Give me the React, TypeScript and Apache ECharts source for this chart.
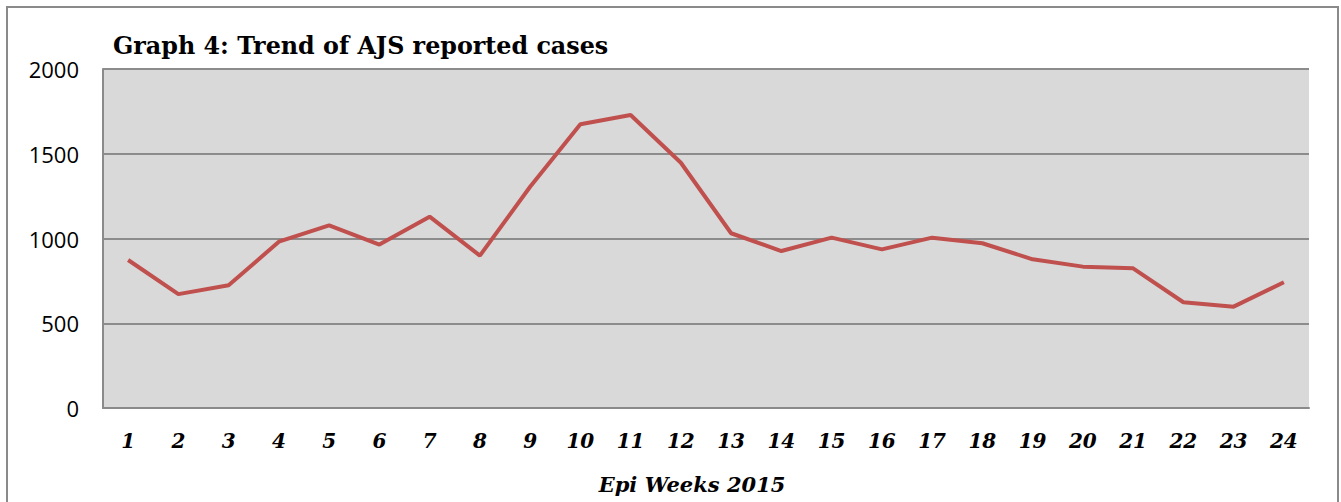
import React, { useEffect, useRef } from "react";
import * as echarts from "echarts";

const weeks = ["1","2","3","4","5","6","7","8","9","10","11","12","13","14","15","16","17","18","19","20","21","22","23","24"];
const cases = [873, 672, 724, 981, 1078, 964, 1129, 899, 1305, 1674, 1729, 1447, 1031, 926, 1005, 936, 1005, 972, 877, 834, 824, 624, 598, 742];
const yTicks = [0, 500, 1000, 1500, 2000];
const titleText = "Graph 4: Trend of AJS reported cases";
const xAxisName = "Epi Weeks 2015";

export default function App() {
  const ref = useRef<HTMLDivElement>(null);
  useEffect(() => {
    if (!ref.current) return;
    const chart = echarts.init(ref.current, null, { renderer: "svg" });
    chart.setOption({
      animation: false,
      backgroundColor: "#ffffff",
      title: {
        text: titleText,
        left: 108,
        top: 29,
        textStyle: { fontFamily: "DejaVu Serif", fontWeight: "bold", fontSize: 23.8, color: "#000000" },
      },
      graphic: [
        {
          type: "rect",
          shape: { x: 7, y: 7, width: 1331, height: 520 },
          style: { fill: "none", stroke: "#8a8a8a", lineWidth: 2 },
          silent: true,
        },
      ],
      grid: { left: 103, top: 69, width: 1206, height: 339, show: true, backgroundColor: "#d9d9d9", borderWidth: 0 },
      xAxis: {
        type: "category",
        data: weeks,
        boundaryGap: true,
        axisLine: { show: true, lineStyle: { color: "#8a8a8a", width: 2 } },
        axisTick: { show: false },
        axisLabel: {
          margin: 23,
          fontFamily: "DejaVu Serif",
          fontStyle: "italic",
          fontWeight: "bold",
          fontSize: 20,
          color: "#000000",
        },
        name: xAxisName,
        nameLocation: "middle",
        nameGap: 66,
        nameTextStyle: {
          fontFamily: "DejaVu Serif",
          fontStyle: "italic",
          fontWeight: "bold",
          fontSize: 21,
          color: "#000000",
          padding: [0, 28, 0, 0],
        },
      },
      yAxis: {
        type: "value",
        min: yTicks[0],
        max: yTicks[yTicks.length - 1],
        interval: 500,
        axisLine: { show: true, lineStyle: { color: "#8a8a8a", width: 2 } },
        axisTick: { show: false },
        axisLabel: {
          margin: 24,
          fontFamily: "Open Sans",
          fontSize: 22,
          color: "#000000",
          formatter: (v: number) => String(v),
        },
        splitLine: { show: true, lineStyle: { color: "#8c8c8c", width: 2 } },
      },
      series: [
        {
          type: "line",
          data: cases,
          symbol: "none",
          lineStyle: { color: "#c0504d", width: 4 },
          itemStyle: { color: "#c0504d" },
        },
      ],
    });
    return () => chart.dispose();
  }, []);
  return (
    <div
      ref={ref}
      style={{ position: "fixed", left: 0, top: 0, width: 1341, height: 502 }}
    />
  );
}
